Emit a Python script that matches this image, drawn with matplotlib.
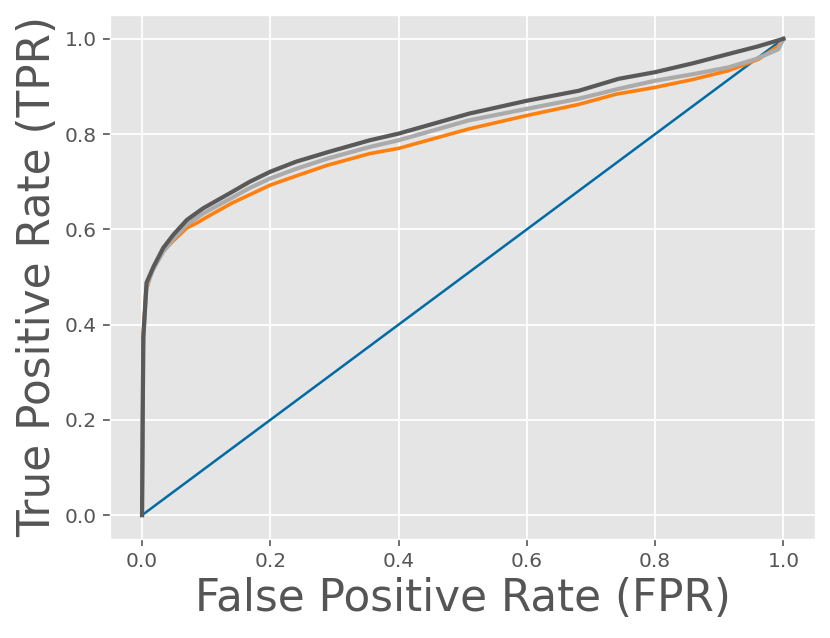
import matplotlib
matplotlib.use("Agg")
import matplotlib.pyplot as plt

plt.style.use(["ggplot", "tableau-colorblind10"])
plt.rcParams["xtick.labelsize"] = 14.5
plt.rcParams["ytick.labelsize"] = 14.5
plt.rcParams["xtick.major.size"] = 4.7
plt.rcParams["ytick.major.size"] = 4.7
plt.rcParams["xtick.major.width"] = 1.2
plt.rcParams["ytick.major.width"] = 1.2
plt.rcParams["xtick.major.pad"] = 4.7
plt.rcParams["ytick.major.pad"] = 4.7

# ROC curves (FPR, TPR)
fpr_a = [0.0, 0.001, 0.002, 0.006, 0.015, 0.03, 0.048, 0.07, 0.085, 0.1, 0.14, 0.2,
         0.24, 0.29, 0.355, 0.4, 0.51, 0.6, 0.68, 0.74, 0.8, 0.86, 0.914, 0.961, 0.992, 1.0]
tpr_a = [0.0, 0.2, 0.38, 0.47, 0.51, 0.55, 0.575, 0.603, 0.613, 0.625, 0.655, 0.693,
         0.712, 0.735, 0.759, 0.77, 0.811, 0.839, 0.862, 0.884, 0.898, 0.915, 0.933, 0.957, 0.985, 1.0]

fpr_b = [0.0, 0.001, 0.002, 0.007, 0.017, 0.033, 0.049, 0.07, 0.095, 0.137, 0.168, 0.2,
         0.24, 0.29, 0.355, 0.4, 0.51, 0.6, 0.68, 0.743, 0.8, 0.86, 0.914, 0.956, 0.992, 1.0]
tpr_b = [0.0, 0.2, 0.37, 0.48, 0.515, 0.553, 0.58, 0.61, 0.633, 0.664, 0.687, 0.707,
         0.727, 0.749, 0.773, 0.787, 0.829, 0.853, 0.874, 0.895, 0.912, 0.926, 0.94, 0.957, 0.978, 1.0]

fpr_c = [0.0, 0.001, 0.002, 0.007, 0.018, 0.033, 0.049, 0.07, 0.095, 0.137, 0.168, 0.2,
         0.24, 0.292, 0.355, 0.4, 0.51, 0.6, 0.681, 0.743, 0.8, 0.86, 0.914, 0.96, 1.0]
tpr_c = [0.0, 0.2, 0.374, 0.488, 0.522, 0.561, 0.589, 0.62, 0.644, 0.676, 0.70, 0.721,
         0.742, 0.763, 0.787, 0.801, 0.843, 0.870, 0.891, 0.916, 0.93, 0.949, 0.968, 0.984, 1.0]

fig = plt.figure(figsize=(8.3, 6.38), dpi=100)
ax = fig.add_axes([0.1325, 0.1552, 0.85, 0.8213])

ax.plot([0, 1], [0, 1], lw=1.8)
ax.plot(fpr_a, tpr_a, lw=2.6)
ax.plot(fpr_b, tpr_b, lw=3)
ax.plot(fpr_c, tpr_c, lw=3)

ax.grid(lw=1.3)
ax.set_xlabel("False Positive Rate (FPR)", fontsize=31.5)
ax.set_ylabel("True Positive Rate (TPR)", fontsize=31.5)

fig.savefig("out.png", dpi=100)
